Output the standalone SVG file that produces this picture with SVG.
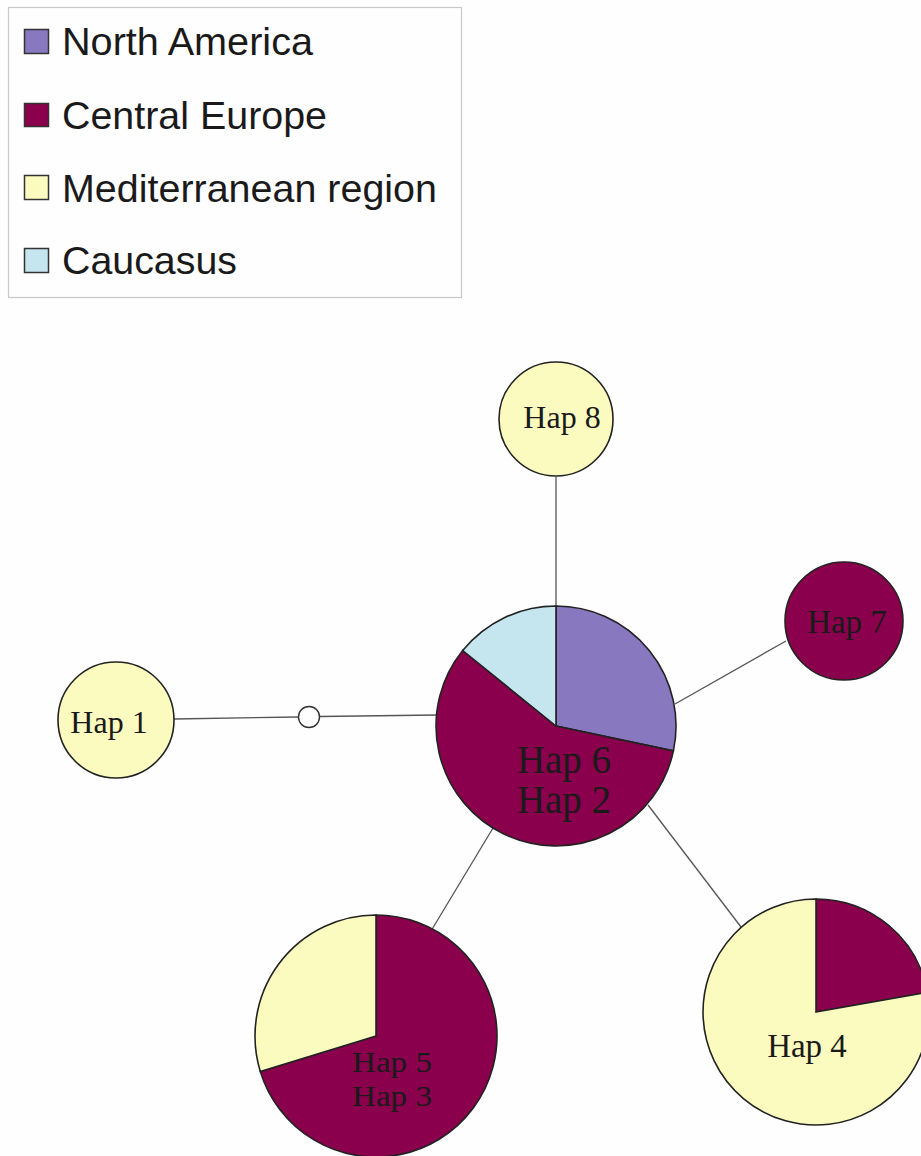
<svg xmlns="http://www.w3.org/2000/svg" width="921" height="1156" viewBox="0 0 921 1156">
<defs>
<style>
.leg{font-family:"Liberation Sans",Arial,sans-serif;font-size:38.5px;fill:#1a1a1a}
.sw{stroke:#333;stroke-width:1.5}
.lbl{font-family:"Liberation Serif","Times New Roman",serif;fill:#1a1a1a;text-anchor:middle}
.nd{stroke:#222;stroke-width:1.6}
.na{fill:#8878bf}
.ce{fill:#8a004c}
.me{fill:#fbfbc0}
.ca{fill:#c5e6ef}
.con{stroke:#555;stroke-width:1.3;fill:none}
</style>
</defs>
<rect x="0" y="0" width="921" height="1156" fill="#fefefe"/>
<g id="legend">
<rect x="8.5" y="7.5" width="453" height="290" fill="#fefefe" stroke="#c8c8c8" stroke-width="1.2"/>
<rect class="sw na" x="24.5" y="29.5" width="24" height="24"/>
<text class="leg" x="62" y="55" textLength="251" lengthAdjust="spacingAndGlyphs">North America</text>
<rect class="sw ce" x="24.5" y="103.5" width="24" height="23"/>
<text class="leg" x="62" y="129" textLength="265" lengthAdjust="spacingAndGlyphs">Central Europe</text>
<rect class="sw me" x="24.5" y="175.5" width="24" height="24"/>
<text class="leg" x="62" y="202" textLength="375" lengthAdjust="spacingAndGlyphs">Mediterranean region</text>
<rect class="sw ca" x="24.5" y="248.5" width="24" height="24"/>
<text class="leg" x="62" y="274" textLength="175" lengthAdjust="spacingAndGlyphs">Caucasus</text>
</g>
<g id="connectors">
<line class="con" x1="556" y1="477" x2="556" y2="606"/>
<line class="con" x1="786" y1="641" x2="675" y2="704"/>
<line class="con" x1="174" y1="719" x2="298" y2="717"/>
<line class="con" x1="320" y1="716.5" x2="437" y2="715"/>
<line class="con" x1="493" y1="828" x2="431" y2="931"/>
<line class="con" x1="648" y1="805" x2="741" y2="927"/>
</g>
<g id="median">
<circle cx="309" cy="717" r="10.5" fill="#fff" stroke="#333" stroke-width="1.4"/>
</g>
<g id="hap8">
<circle class="nd me" cx="556" cy="419" r="57"/>
<text class="lbl" x="562" y="428" font-size="32">Hap 8</text>
</g>
<g id="hap7">
<circle class="nd ce" cx="844" cy="621" r="59"/>
<text class="lbl" x="847" y="633" font-size="33">Hap 7</text>
</g>
<g id="hap1">
<circle class="nd me" cx="116" cy="720" r="58"/>
<text class="lbl" x="109" y="733" font-size="32">Hap 1</text>
</g>
<g id="hap6-2">
<path class="nd na" d="M556,726 L556,606 A120,120 0 0 1 673.4,750.9 Z"/>
<path class="nd ce" d="M556,726 L673.4,750.9 A120,120 0 1 1 462.7,650.5 Z"/>
<path class="nd ca" d="M556,726 L462.7,650.5 A120,120 0 0 1 556,606 Z"/>
<text class="lbl" font-size="39"><tspan x="564" y="773">Hap 6</tspan><tspan x="564" y="813">Hap 2</tspan></text>
</g>
<g id="hap4">
<path class="nd ce" d="M816,1012 L816,899 A113,113 0 0 1 927.3,992.4 Z"/>
<path class="nd me" d="M816,1012 L927.3,992.4 A113,113 0 1 1 816,899 Z"/>
<text class="lbl" x="807" y="1057" font-size="33">Hap 4</text>
</g>
<g id="hap5-3">
<path class="nd ce" d="M376,1036 L376,915 A121,121 0 1 1 260.3,1071.4 Z"/>
<path class="nd me" d="M376,1036 L260.3,1071.4 A121,121 0 0 1 376,915 Z"/>
<text class="lbl" font-size="30"><tspan x="392" y="1072" textLength="80" lengthAdjust="spacingAndGlyphs">Hap 5</tspan><tspan x="392" y="1106" textLength="80" lengthAdjust="spacingAndGlyphs">Hap 3</tspan></text>
</g>
</svg>
